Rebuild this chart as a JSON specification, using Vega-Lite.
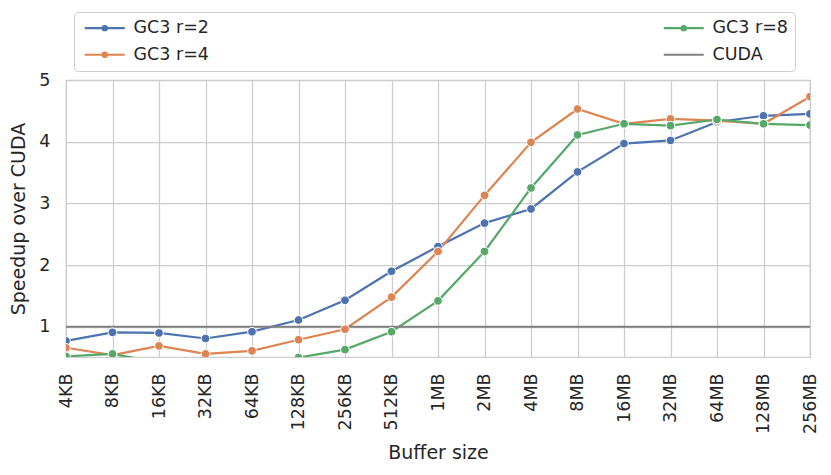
{
  "$schema": "https://vega.github.io/schema/vega-lite/v6.json",
  "width": 744,
  "height": 277,
  "autosize": {"type": "none"},
  "padding": {"left": 66, "top": 80, "right": 21, "bottom": 118},
  "background": "white",
  "config": {
    "font": "DejaVu Sans",
    "view": {"stroke": "#cccccc", "strokeWidth": 1.25},
    "axis": {
      "domain": false,
      "ticks": false,
      "gridColor": "#cccccc",
      "gridWidth": 1.25,
      "labelFont": "DejaVu Sans",
      "labelFontSize": 17.5,
      "labelColor": "#262626",
      "labelPadding": 16,
      "titleFont": "DejaVu Sans",
      "titleFontSize": 19,
      "titleFontWeight": "normal",
      "titleColor": "#262626"
    },
    "legend": {
      "labelFont": "DejaVu Sans",
      "labelFontSize": 17.5,
      "labelColor": "#262626"
    }
  },
  "data": {
    "values": [
      {"size": "4KB", "series": "GC3 r=2", "speedup": 0.77},
      {"size": "8KB", "series": "GC3 r=2", "speedup": 0.91},
      {"size": "16KB", "series": "GC3 r=2", "speedup": 0.9},
      {"size": "32KB", "series": "GC3 r=2", "speedup": 0.81},
      {"size": "64KB", "series": "GC3 r=2", "speedup": 0.92},
      {"size": "128KB", "series": "GC3 r=2", "speedup": 1.11},
      {"size": "256KB", "series": "GC3 r=2", "speedup": 1.43},
      {"size": "512KB", "series": "GC3 r=2", "speedup": 1.9},
      {"size": "1MB", "series": "GC3 r=2", "speedup": 2.3},
      {"size": "2MB", "series": "GC3 r=2", "speedup": 2.68},
      {"size": "4MB", "series": "GC3 r=2", "speedup": 2.91},
      {"size": "8MB", "series": "GC3 r=2", "speedup": 3.51},
      {"size": "16MB", "series": "GC3 r=2", "speedup": 3.97},
      {"size": "32MB", "series": "GC3 r=2", "speedup": 4.02},
      {"size": "64MB", "series": "GC3 r=2", "speedup": 4.32},
      {"size": "128MB", "series": "GC3 r=2", "speedup": 4.42},
      {"size": "256MB", "series": "GC3 r=2", "speedup": 4.45},
      {"size": "4KB", "series": "GC3 r=4", "speedup": 0.66},
      {"size": "8KB", "series": "GC3 r=4", "speedup": 0.54},
      {"size": "16KB", "series": "GC3 r=4", "speedup": 0.69},
      {"size": "32KB", "series": "GC3 r=4", "speedup": 0.56},
      {"size": "64KB", "series": "GC3 r=4", "speedup": 0.61},
      {"size": "128KB", "series": "GC3 r=4", "speedup": 0.79},
      {"size": "256KB", "series": "GC3 r=4", "speedup": 0.96},
      {"size": "512KB", "series": "GC3 r=4", "speedup": 1.48},
      {"size": "1MB", "series": "GC3 r=4", "speedup": 2.22},
      {"size": "2MB", "series": "GC3 r=4", "speedup": 3.13},
      {"size": "4MB", "series": "GC3 r=4", "speedup": 3.99},
      {"size": "8MB", "series": "GC3 r=4", "speedup": 4.53},
      {"size": "16MB", "series": "GC3 r=4", "speedup": 4.29},
      {"size": "32MB", "series": "GC3 r=4", "speedup": 4.37},
      {"size": "64MB", "series": "GC3 r=4", "speedup": 4.34},
      {"size": "128MB", "series": "GC3 r=4", "speedup": 4.29},
      {"size": "256MB", "series": "GC3 r=4", "speedup": 4.73},
      {"size": "4KB", "series": "GC3 r=8", "speedup": 0.52},
      {"size": "8KB", "series": "GC3 r=8", "speedup": 0.56},
      {"size": "16KB", "series": "GC3 r=8", "speedup": 0.42},
      {"size": "32KB", "series": "GC3 r=8", "speedup": 0.38},
      {"size": "64KB", "series": "GC3 r=8", "speedup": 0.4},
      {"size": "128KB", "series": "GC3 r=8", "speedup": 0.5},
      {"size": "256KB", "series": "GC3 r=8", "speedup": 0.63},
      {"size": "512KB", "series": "GC3 r=8", "speedup": 0.92},
      {"size": "1MB", "series": "GC3 r=8", "speedup": 1.42},
      {"size": "2MB", "series": "GC3 r=8", "speedup": 2.22},
      {"size": "4MB", "series": "GC3 r=8", "speedup": 3.25},
      {"size": "8MB", "series": "GC3 r=8", "speedup": 4.11},
      {"size": "16MB", "series": "GC3 r=8", "speedup": 4.29},
      {"size": "32MB", "series": "GC3 r=8", "speedup": 4.26},
      {"size": "64MB", "series": "GC3 r=8", "speedup": 4.36},
      {"size": "128MB", "series": "GC3 r=8", "speedup": 4.29},
      {"size": "256MB", "series": "GC3 r=8", "speedup": 4.27},
      {"size": "4KB", "series": "CUDA", "speedup": 1},
      {"size": "8KB", "series": "CUDA", "speedup": 1},
      {"size": "16KB", "series": "CUDA", "speedup": 1},
      {"size": "32KB", "series": "CUDA", "speedup": 1},
      {"size": "64KB", "series": "CUDA", "speedup": 1},
      {"size": "128KB", "series": "CUDA", "speedup": 1},
      {"size": "256KB", "series": "CUDA", "speedup": 1},
      {"size": "512KB", "series": "CUDA", "speedup": 1},
      {"size": "1MB", "series": "CUDA", "speedup": 1},
      {"size": "2MB", "series": "CUDA", "speedup": 1},
      {"size": "4MB", "series": "CUDA", "speedup": 1},
      {"size": "8MB", "series": "CUDA", "speedup": 1},
      {"size": "16MB", "series": "CUDA", "speedup": 1},
      {"size": "32MB", "series": "CUDA", "speedup": 1},
      {"size": "64MB", "series": "CUDA", "speedup": 1},
      {"size": "128MB", "series": "CUDA", "speedup": 1},
      {"size": "256MB", "series": "CUDA", "speedup": 1}
    ]
  },
  "encoding": {
    "x": {
      "field": "size",
      "type": "ordinal",
      "sort": null,
      "title": "Buffer size",
      "scale": {"type": "point", "padding": 0},
      "axis": {"labelAngle": -90, "grid": true, "titlePadding": 10}
    },
    "y": {
      "field": "speedup",
      "type": "quantitative",
      "title": "Speedup over CUDA",
      "scale": {"domain": [0.51, 5], "nice": false, "zero": false},
      "axis": {"values": [1, 2, 3, 4, 5], "titlePadding": 10}
    },
    "color": {
      "field": "series",
      "type": "nominal",
      "scale": {
        "domain": ["GC3 r=2", "GC3 r=4", "GC3 r=8", "CUDA"],
        "range": ["#4c72b0", "#dd8452", "#55a868", "#808080"]
      },
      "legend": {
        "title": null,
        "orient": "none",
        "legendX": 8,
        "legendY": -68,
        "columns": 2,
        "columnPadding": 450,
        "rowPadding": 8,
        "padding": 7,
        "strokeColor": "#cccccc",
        "fillColor": "white",
        "cornerRadius": 4,
        "symbolSize": 100,
        "symbolOffset": 15,
        "labelOffset": 20,
        "encode": {
          "symbols": {
            "update": {
              "shape": {"signal": "datum.value === 'CUDA' ? 'M-4,0H4' : 'M-4,0H4M-0.42,0A0.42,0.42,0,1,0,0.42,0A0.42,0.42,0,1,0,-0.42,0Z'"},
              "fill": {"signal": "scale('color', datum.value)"},
              "stroke": {"signal": "scale('color', datum.value)"},
              "strokeWidth": {"value": 2.2},
              "opacity": {"value": 1}
            }
          }
        }
      }
    }
  },
  "layer": [
    {
      "mark": {"type": "line", "strokeWidth": 2.2, "clip": true}
    },
    {
      "transform": [{"filter": "datum.series !== 'CUDA'"}],
      "mark": {"type": "point", "filled": true, "size": 75, "opacity": 1, "stroke": "white", "strokeWidth": 1, "clip": true}
    }
  ]
}
